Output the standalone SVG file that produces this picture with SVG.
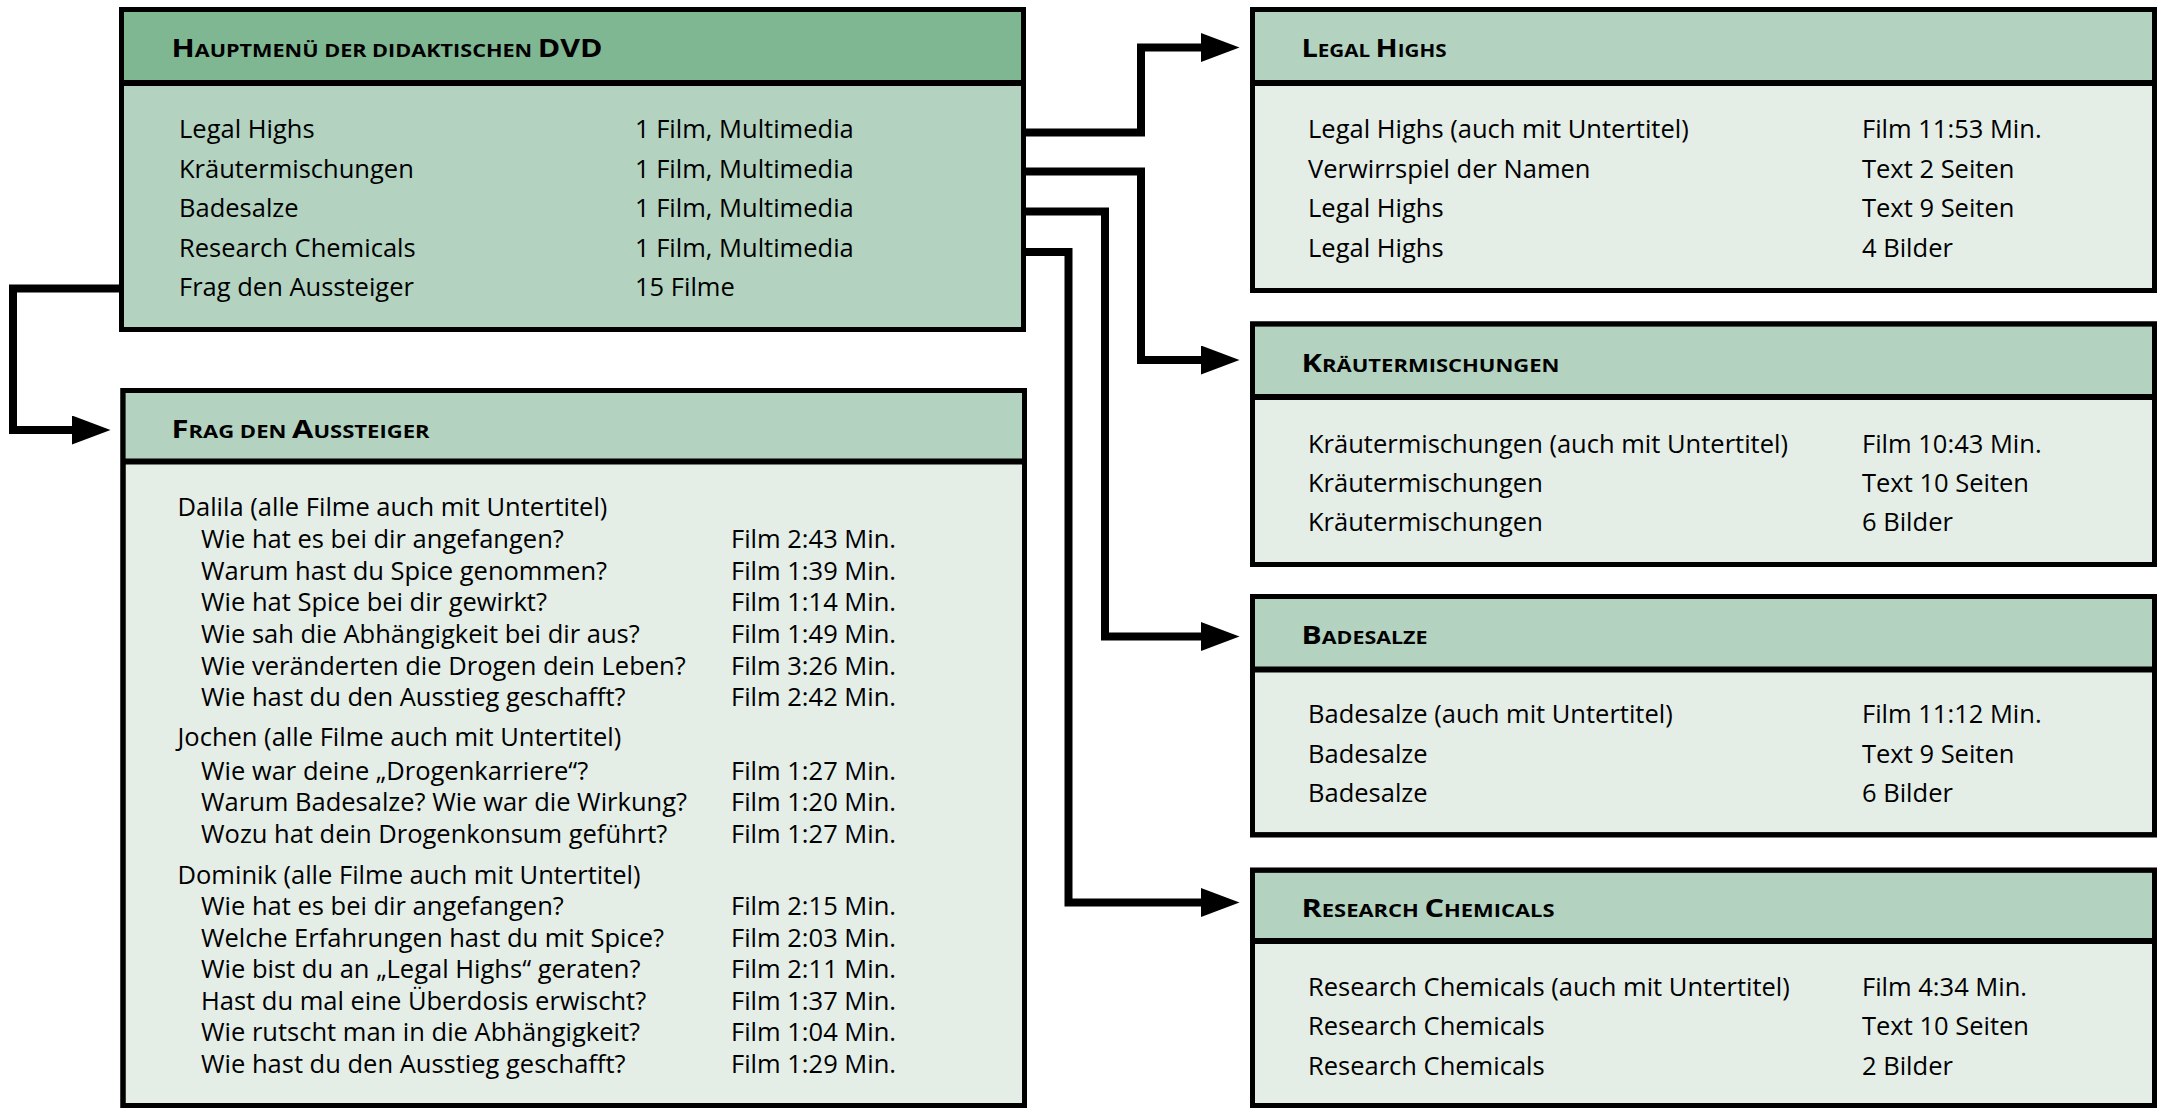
<svg xmlns="http://www.w3.org/2000/svg" width="2163" height="1108" viewBox="0 0 2163 1108">
<defs>
<style>
.box{stroke:#000;stroke-width:5}
.hd1{fill:#80b793}
.bd1{fill:#b3d3c0}
.hd2{fill:#b3d3c0}
.bd2{fill:#e4eee7}
.div{stroke:#000;stroke-width:6}
.t{font-family:"Open Sans","Noto Sans",sans-serif;font-size:25.5px;fill:#000}
.h{font-family:"Open Sans","Noto Sans",sans-serif;font-weight:bold;font-size:25px;fill:#000}
.sc{font-size:17.8px}
.conn{fill:none;stroke:#000;stroke-width:8;stroke-linejoin:miter}
</style>
<marker id="arr" markerUnits="userSpaceOnUse" markerWidth="40" markerHeight="30" refX="0" refY="14.5" orient="auto">
<path d="M0,0 L38.5,14.5 L0,29 Z" fill="#000"/>
</marker>
</defs>
<rect width="2163" height="1108" fill="#fff"/>

<g id="connectors">
<path class="conn" d="M1024,132.5 H1141 V47.5 H1201" marker-end="url(#arr)"/>
<path class="conn" d="M1024,171.5 H1141 V360 H1201" marker-end="url(#arr)"/>
<path class="conn" d="M1024,211.5 H1105 V636.5 H1201" marker-end="url(#arr)"/>
<path class="conn" d="M1024,252 H1068.5 V902.5 H1201" marker-end="url(#arr)"/>
<path class="conn" d="M121,288.5 H13 V430 H72" marker-end="url(#arr)"/>
</g>

<g id="hauptmenue">
<rect class="box bd1" x="121.5" y="9.5" width="902" height="320"/>
<rect class="hd1" x="124" y="12" width="897" height="71"/>
<line class="div" x1="121.5" y1="83" x2="1023.5" y2="83"/>
<rect class="box" x="121.5" y="9.5" width="902" height="320" fill="none"/>
<text class="h" x="171.5" y="57.3" textLength="431" lengthAdjust="spacingAndGlyphs">H<tspan class="sc">AUPTMENÜ DER DIDAKTISCHEN </tspan>DVD</text>
<text class="t" x="179" y="138">Legal Highs</text>
<text class="t" x="635" y="138">1 Film, Multimedia</text>
<text class="t" x="179" y="177.5">Kräutermischungen</text>
<text class="t" x="635" y="177.5">1 Film, Multimedia</text>
<text class="t" x="179" y="217">Badesalze</text>
<text class="t" x="635" y="217">1 Film, Multimedia</text>
<text class="t" x="179" y="256.5">Research Chemicals</text>
<text class="t" x="635" y="256.5">1 Film, Multimedia</text>
<text class="t" x="179" y="296">Frag den Aussteiger</text>
<text class="t" x="635" y="296">15 Filme</text>
</g>

<g id="legal-highs">
<rect class="box bd2" x="1252.5" y="9.5" width="902" height="281"/>
<rect class="hd2" x="1255" y="12" width="897" height="71"/>
<line class="div" x1="1252.5" y1="83" x2="2154.5" y2="83"/>
<rect class="box" x="1252.5" y="9.5" width="902" height="281" fill="none"/>
<text class="h" x="1301.5" y="57.3" textLength="145" lengthAdjust="spacingAndGlyphs">L<tspan class="sc">EGAL </tspan>H<tspan class="sc">IGHS</tspan></text>
<text class="t" x="1308" y="138">Legal Highs (auch mit Untertitel)</text>
<text class="t" x="1862" y="138">Film 11:53 Min.</text>
<text class="t" x="1308" y="177.5">Verwirrspiel der Namen</text>
<text class="t" x="1862" y="177.5">Text 2 Seiten</text>
<text class="t" x="1308" y="217">Legal Highs</text>
<text class="t" x="1862" y="217">Text 9 Seiten</text>
<text class="t" x="1308" y="256.5">Legal Highs</text>
<text class="t" x="1862" y="256.5">4 Bilder</text>
</g>

<g id="kraeutermischungen">
<rect class="box bd2" x="1252.5" y="324" width="902" height="240.5"/>
<rect class="hd2" x="1255" y="326.5" width="897" height="70.5"/>
<line class="div" x1="1252.5" y1="397" x2="2154.5" y2="397"/>
<rect class="box" x="1252.5" y="324" width="902" height="240.5" fill="none"/>
<text class="h" x="1301.5" y="372" textLength="258" lengthAdjust="spacingAndGlyphs">K<tspan class="sc">RÄUTERMISCHUNGEN</tspan></text>
<text class="t" x="1308" y="453">Kräutermischungen (auch mit Untertitel)</text>
<text class="t" x="1862" y="453">Film 10:43 Min.</text>
<text class="t" x="1308" y="492">Kräutermischungen</text>
<text class="t" x="1862" y="492">Text 10 Seiten</text>
<text class="t" x="1308" y="531">Kräutermischungen</text>
<text class="t" x="1862" y="531">6 Bilder</text>
</g>

<g id="badesalze">
<rect class="box bd2" x="1252.5" y="596.5" width="902" height="238.3"/>
<rect class="hd2" x="1255" y="599" width="897" height="70.5"/>
<line class="div" x1="1252.5" y1="669.5" x2="2154.5" y2="669.5"/>
<rect class="box" x="1252.5" y="596.5" width="902" height="238.3" fill="none"/>
<text class="h" x="1301.5" y="643.5" textLength="126" lengthAdjust="spacingAndGlyphs">B<tspan class="sc">ADESALZE</tspan></text>
<text class="t" x="1308" y="723">Badesalze (auch mit Untertitel)</text>
<text class="t" x="1862" y="723">Film 11:12 Min.</text>
<text class="t" x="1308" y="762.5">Badesalze</text>
<text class="t" x="1862" y="762.5">Text 9 Seiten</text>
<text class="t" x="1308" y="802">Badesalze</text>
<text class="t" x="1862" y="802">6 Bilder</text>
</g>

<g id="research-chemicals">
<rect class="box bd2" x="1252.5" y="870.2" width="902" height="235.3"/>
<rect class="hd2" x="1255" y="872.7" width="897" height="68.3"/>
<line class="div" x1="1252.5" y1="941" x2="2154.5" y2="941"/>
<rect class="box" x="1252.5" y="870.2" width="902" height="235.3" fill="none"/>
<text class="h" x="1301.5" y="917" textLength="253" lengthAdjust="spacingAndGlyphs">R<tspan class="sc">ESEARCH </tspan>C<tspan class="sc">HEMICALS</tspan></text>
<text class="t" x="1308" y="995.5">Research Chemicals (auch mit Untertitel)</text>
<text class="t" x="1862" y="995.5">Film 4:34 Min.</text>
<text class="t" x="1308" y="1035">Research Chemicals</text>
<text class="t" x="1862" y="1035">Text 10 Seiten</text>
<text class="t" x="1308" y="1075">Research Chemicals</text>
<text class="t" x="1862" y="1075">2 Bilder</text>
</g>

<g id="frag-den-aussteiger">
<rect class="box bd2" x="123" y="390.5" width="901.5" height="715"/>
<rect class="hd2" x="125.5" y="393" width="896.5" height="68.5"/>
<line class="div" x1="123" y1="461.5" x2="1024.5" y2="461.5"/>
<rect class="box" x="123" y="390.5" width="901.5" height="715" fill="none"/>
<text class="h" x="171.5" y="438" textLength="258" lengthAdjust="spacingAndGlyphs">F<tspan class="sc">RAG DEN </tspan>A<tspan class="sc">USSTEIGER</tspan></text>
<text class="t" x="177.5" y="515.5">Dalila (alle Filme auch mit Untertitel)</text>
<text class="t" x="201" y="547.5">Wie hat es bei dir angefangen?</text>
<text class="t" x="731" y="547.5">Film 2:43 Min.</text>
<text class="t" x="201" y="579.5">Warum hast du Spice genommen?</text>
<text class="t" x="731" y="579.5">Film 1:39 Min.</text>
<text class="t" x="201" y="611">Wie hat Spice bei dir gewirkt?</text>
<text class="t" x="731" y="611">Film 1:14 Min.</text>
<text class="t" x="201" y="642.5">Wie sah die Abhängigkeit bei dir aus?</text>
<text class="t" x="731" y="642.5">Film 1:49 Min.</text>
<text class="t" x="201" y="674.5">Wie veränderten die Drogen dein Leben?</text>
<text class="t" x="731" y="674.5">Film 3:26 Min.</text>
<text class="t" x="201" y="706">Wie hast du den Ausstieg geschafft?</text>
<text class="t" x="731" y="706">Film 2:42 Min.</text>
<text class="t" x="177.5" y="746">Jochen (alle Filme auch mit Untertitel)</text>
<text class="t" x="201" y="779.5">Wie war deine „Drogenkarriere“?</text>
<text class="t" x="731" y="779.5">Film 1:27 Min.</text>
<text class="t" x="201" y="811">Warum Badesalze? Wie war die Wirkung?</text>
<text class="t" x="731" y="811">Film 1:20 Min.</text>
<text class="t" x="201" y="843">Wozu hat dein Drogenkonsum geführt?</text>
<text class="t" x="731" y="843">Film 1:27 Min.</text>
<text class="t" x="177.5" y="883.5">Dominik (alle Filme auch mit Untertitel)</text>
<text class="t" x="201" y="915">Wie hat es bei dir angefangen?</text>
<text class="t" x="731" y="915">Film 2:15 Min.</text>
<text class="t" x="201" y="946.5">Welche Erfahrungen hast du mit Spice?</text>
<text class="t" x="731" y="946.5">Film 2:03 Min.</text>
<text class="t" x="201" y="978">Wie bist du an „Legal Highs“ geraten?</text>
<text class="t" x="731" y="978">Film 2:11 Min.</text>
<text class="t" x="201" y="1009.5">Hast du mal eine Überdosis erwischt?</text>
<text class="t" x="731" y="1009.5">Film 1:37 Min.</text>
<text class="t" x="201" y="1041">Wie rutscht man in die Abhängigkeit?</text>
<text class="t" x="731" y="1041">Film 1:04 Min.</text>
<text class="t" x="201" y="1072.5">Wie hast du den Ausstieg geschafft?</text>
<text class="t" x="731" y="1072.5">Film 1:29 Min.</text>
</g>
</svg>
